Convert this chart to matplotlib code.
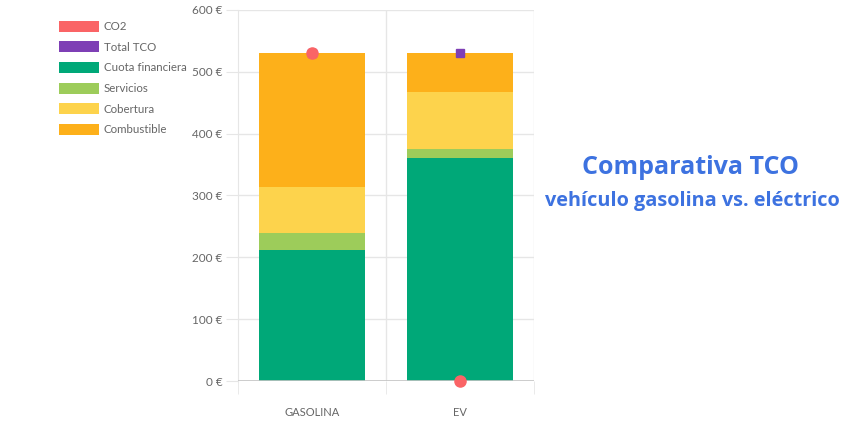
import matplotlib
matplotlib.use("Agg")
import matplotlib.pyplot as plt
from matplotlib.patches import Patch
import numpy as np

# data
categories = ["GASOLINA", "EV"]
cuota = [212, 360]
servicios = [27, 15]
cobertura = [75, 92]
combustible = [216, 63]
total_tco = [530, 530]
co2 = [530, 0]

series_names = ["CO2", "Total TCO", "Cuota financiera", "Servicios", "Cobertura", "Combustible"]
c_co2 = "#fa6466"
c_tco = "#7e3fb5"
c_cuota = "#00a878"
c_serv = "#9dcc5a"
c_cob = "#fdd34c"
c_comb = "#fdb01a"

plt.rcParams['font.family'] = ['Lato', 'DejaVu Sans']

fig = plt.figure(figsize=(8.6, 4.22), dpi=100)
ax = fig.add_axes([238/860, 1 - 381/422, (534 - 238)/860, (381 - 10)/422])

x = np.arange(len(categories))
w = 0.72
bottom = np.zeros(len(categories))
for vals, col in [(cuota, c_cuota), (servicios, c_serv), (cobertura, c_cob), (combustible, c_comb)]:
    ax.bar(x, vals, w, bottom=bottom, color=col, zorder=2)
    bottom = bottom + np.array(vals)

ax.plot(x, total_tco, linestyle="none", marker="s", markersize=6.3, color=c_tco, zorder=4, clip_on=False)
ax.plot(x, co2, linestyle="none", marker="o", markersize=8, color=c_co2, zorder=5, clip_on=False)

ax.set_xlim(-0.5, 1.5)
ax.set_ylim(0, 600)
ax.set_yticks(range(0, 601, 100))
ax.set_yticklabels([f"{v} €" for v in range(0, 601, 100)])
ax.set_xticks(x)
ax.set_xticklabels(categories)
ax.set_xticks([-0.5, 0.5, 1.5], minor=True)

grid_c = "#e6e6e6"
for v in range(100, 601, 100):
    ax.axhline(v, color=grid_c, lw=1, zorder=1)
for v in [0.5, 1.5]:
    ax.axvline(v, color=grid_c, lw=1, zorder=1)

for s in ["top", "right", "bottom"]:
    ax.spines[s].set_visible(False)
ax.spines["left"].set_color(grid_c)
ax.axhline(0, color="#c4c4c4", lw=1.2, zorder=3)

ax.tick_params(axis="y", length=9, color=grid_c, labelsize=8.5, labelcolor="#666666", pad=2)
ax.tick_params(axis="x", which="major", length=0, labelsize=8, labelcolor="#666666", pad=19)
ax.tick_params(axis="x", which="minor", length=9, color=grid_c)

# legend
handles = [Patch(facecolor=c, edgecolor="none") for c in [c_co2, c_tco, c_cuota, c_serv, c_cob, c_comb]]
fig.legend(handles, series_names, loc="upper left", bbox_to_anchor=(54/860, 1 - 16/422),
           frameon=False, fontsize=8.3, labelcolor="#666666", handlelength=3.5, handleheight=1.1,
           labelspacing=0.8, handletextpad=0.4, borderaxespad=0)

fig.text(691/860, 1 - 167/422, "Comparativa TCO", ha="center", va="center",
         fontsize=18, fontweight="bold", color="#3d72e0", family=["Open Sans", "DejaVu Sans"])
fig.text(692/860, 1 - 201/422, "vehículo gasolina vs. eléctrico", ha="center", va="center",
         fontsize=14.3, fontweight="bold", color="#3d72e0", family=["Open Sans", "DejaVu Sans"])

fig.savefig("out.png", dpi=100)
